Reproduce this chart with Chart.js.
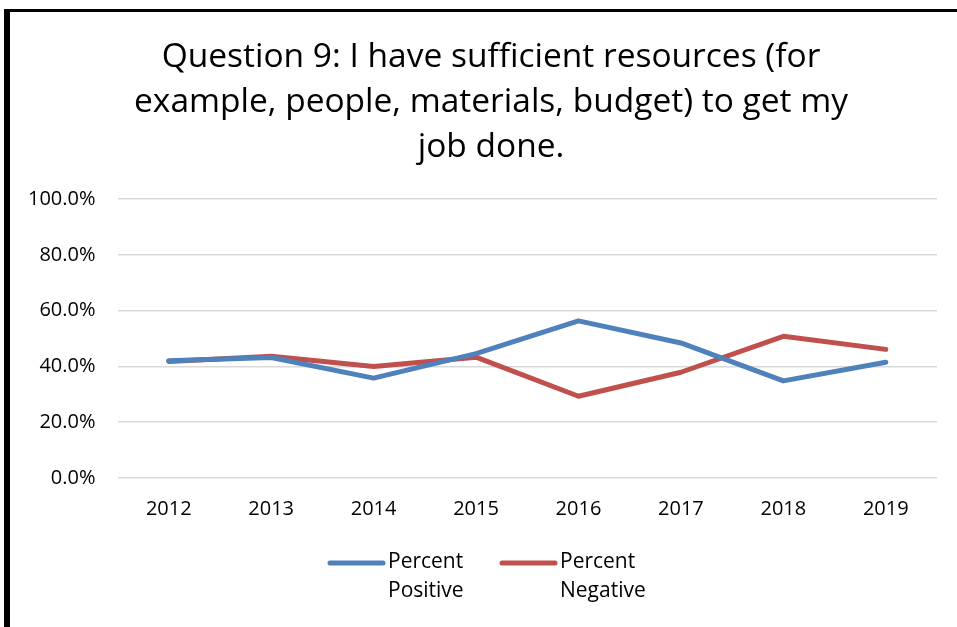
<!DOCTYPE html>
<html>
<head>
<meta charset="utf-8">
<script src="https://cdn.jsdelivr.net/npm/chart.js@4/dist/chart.umd.min.js"></script>
<style>
  html, body { margin: 0; padding: 0; background: #fff; }
  #wrap { position: relative; width: 957px; height: 627px; overflow: hidden; }
  #frame { position: absolute; left: 4px; top: 9px; width: 1000px; height: 700px;
           border-left: 6px solid #000; border-top: 3px solid #000; }
  #mycanvas { position: absolute; left: 0; top: 0; }
</style>
</head>
<body>
<div id="wrap">
  <div id="frame"></div>
  <canvas id="mycanvas" width="957" height="627"></canvas>
</div>
<script>
var years = ['2012', '2013', '2014', '2015', '2016', '2017', '2018', '2019'];
var percentPositive = [42.0, 43.2, 35.8, 44.6, 56.3, 48.4, 34.8, 41.5];
var percentNegative = [41.8, 43.6, 40.0, 43.3, 29.3, 37.9, 50.8, 46.1];
var titleLines = ['Question 9: I have sufficient resources (for',
                  'example, people, materials, budget) to get my',
                  'job done.'];
var seriesNames = [['Percent', 'Positive'], ['Percent', 'Negative']];

var fontFamily = '"Open Sans", Lato, sans-serif';
var blue = '#4f81bd';
var red = '#c0504d';

// wrapped title, centred a little right of the canvas middle
var wrapTitle = {
  id: 'wrapTitle',
  afterDraw: function(chart) {
    var ctx = chart.ctx;
    ctx.save();
    ctx.font = '33.5px ' + fontFamily;
    ctx.textAlign = 'center';
    ctx.textBaseline = 'alphabetic';
    ctx.fillStyle = '#000';
    titleLines.forEach(function(line, i) {
      ctx.fillText(line, 491, 67 + i * 45);
    });
    ctx.restore();
  }
};

// two-line legend under the axis, drawn by hand
var wrapLegend = {
  id: 'wrapLegend',
  afterDraw: function(chart) {
    var ctx = chart.ctx;
    var starts = [330, 502];
    ctx.save();
    ctx.font = '21px ' + fontFamily;
    ctx.textBaseline = 'middle';
    ctx.fillStyle = '#000';
    chart.data.datasets.forEach(function(ds, i) {
      var x = starts[i];
      ctx.strokeStyle = ds.borderColor;
      ctx.lineWidth = 5;
      ctx.lineCap = 'round';
      ctx.beginPath();
      ctx.moveTo(x, 563);
      ctx.lineTo(x + 53, 563);
      ctx.stroke();
      ctx.fillText(seriesNames[i][0], x + 58, 562);
      ctx.fillText(seriesNames[i][1], x + 58, 591);
    });
    ctx.restore();
  }
};

var ctx = document.getElementById('mycanvas');
var lineChart = new Chart(ctx, {
  type: 'line',
  data: {
    labels: years,
    datasets: [
      { label: 'Percent Positive', data: percentPositive, borderColor: blue, backgroundColor: blue },
      { label: 'Percent Negative', data: percentNegative, borderColor: red, backgroundColor: red }
    ]
  },
  options: {
    responsive: false,
    animation: false,
    layout: { padding: { left: 6, right: 20, top: 199, bottom: 95 } },
    elements: {
      line: { borderWidth: 5, tension: 0, borderCapStyle: 'round', borderJoinStyle: 'round' },
      point: { radius: 0, hoverRadius: 0 }
    },
    plugins: {
      legend: { display: false },
      tooltip: { enabled: false },
      title: { display: false }
    },
    scales: {
      x: {
        offset: true,
        grid: { display: false },
        border: { display: false },
        ticks: { color: '#000', font: { family: fontFamily, size: 20 }, padding: 11 }
      },
      y: {
        min: 0,
        max: 100,
        grid: { color: '#d9d9d9', lineWidth: 1.5, drawTicks: false },
        border: { display: false },
        ticks: {
          stepSize: 20,
          color: '#000',
          padding: 22,
          font: { family: fontFamily, size: 20 },
          callback: function(v) { return v.toFixed(1) + '%'; }
        }
      }
    }
  },
  plugins: [wrapTitle, wrapLegend]
});
</script>
</body>
</html>
